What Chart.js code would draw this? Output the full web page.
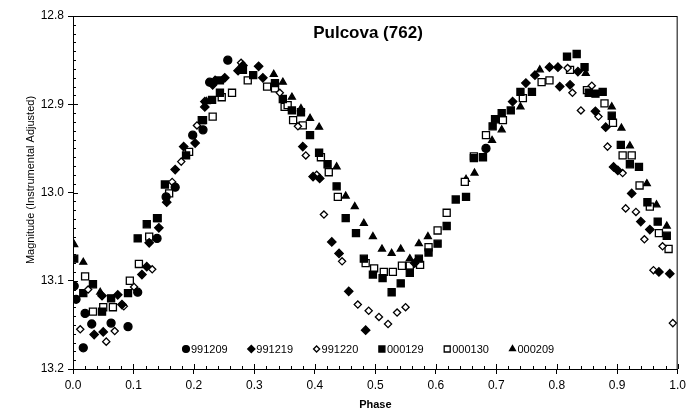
<!DOCTYPE html>
<html>
<head>
<meta charset="utf-8">
<script src="https://cdn.jsdelivr.net/npm/chart.js@4/dist/chart.umd.min.js"></script>
<style>
  html, body { margin: 0; padding: 0; background: #fff; }
  #wrap { width: 690px; height: 416px; position: relative; }
</style>
</head>
<body>
<div id="wrap"><canvas id="c" width="690" height="416"></canvas></div>
<script>
// series names (as in the legend)
const seriesNames = ['991209', '991219', '991220', '000129', '000130', '000209'];

// phase / magnitude for each night
const phase991209 = [0.002, 0.005, 0.020, 0.031, 0.017, 0.063, 0.091, 0.107, 0.139, 0.154, 0.169, 0.198, 0.215, 0.226, 0.256, 0.683];
const mag991209   = [13.106, 13.121, 13.137, 13.149, 13.176, 13.148, 13.152, 13.113, 13.052, 13.005, 12.994, 12.935, 12.929, 12.875, 12.850, 12.950];

const phase991219 = [0.035, 0.050, 0.048, 0.074, 0.081, 0.114, 0.122, 0.126, 0.142, 0.155, 0.169, 0.183, 0.202, 0.218, 0.231, 0.218, 0.235, 0.251, 0.273, 0.281, 0.307, 0.314, 0.380, 0.397, 0.408, 0.428, 0.440, 0.456, 0.484, 0.565, 0.727, 0.749, 0.764, 0.788, 0.802, 0.805, 0.822, 0.835, 0.864, 0.881, 0.894, 0.901, 0.924, 0.939, 0.954, 0.969, 0.987];
const mag991219   = [13.161, 13.158, 13.117, 13.116, 13.127, 13.093, 13.084, 13.057, 13.040, 13.011, 12.974, 12.948, 12.944, 12.903, 12.878, 12.897, 12.873, 12.870, 12.862, 12.856, 12.857, 12.870, 12.948, 12.982, 12.984, 13.056, 13.069, 13.112, 13.156, 13.080, 12.897, 12.876, 12.867, 12.858, 12.858, 12.880, 12.878, 12.863, 12.908, 12.926, 12.971, 12.975, 13.001, 13.033, 13.042, 13.090, 13.092];

const phase991220 = [0.012, 0.025, 0.055, 0.069, 0.084, 0.101, 0.131, 0.164, 0.179, 0.205, 0.278, 0.342, 0.372, 0.385, 0.403, 0.415, 0.445, 0.471, 0.489, 0.506, 0.521, 0.536, 0.550, 0.818, 0.826, 0.840, 0.858, 0.869, 0.884, 0.909, 0.914, 0.931, 0.945, 0.960, 0.975, 0.992];
const mag991220   = [13.155, 13.110, 13.169, 13.157, 13.129, 13.107, 13.087, 12.988, 12.965, 12.924, 12.853, 12.887, 12.925, 12.958, 12.980, 13.025, 13.078, 13.127, 13.134, 13.141, 13.149, 13.136, 13.130, 12.859, 12.887, 12.907, 12.879, 12.914, 12.948, 12.978, 13.018, 13.022, 13.053, 13.088, 13.061, 13.148];

const phase000129 = [0.002, 0.017, 0.033, 0.048, 0.063, 0.091, 0.107, 0.122, 0.139, 0.152, 0.187, 0.213, 0.230, 0.243, 0.243, 0.281, 0.298, 0.334, 0.347, 0.362, 0.377, 0.392, 0.407, 0.421, 0.436, 0.451, 0.468, 0.481, 0.496, 0.512, 0.527, 0.542, 0.557, 0.572, 0.588, 0.603, 0.618, 0.633, 0.650, 0.663, 0.678, 0.694, 0.698, 0.709, 0.724, 0.740, 0.759, 0.817, 0.833, 0.846, 0.853, 0.864, 0.876, 0.891, 0.906, 0.921, 0.936, 0.950, 0.967, 0.982];
const mag000129   = [13.075, 13.114, 13.104, 13.135, 13.120, 13.114, 13.052, 13.036, 13.029, 12.991, 12.958, 12.918, 12.895, 12.887, 12.873, 12.861, 12.867, 12.876, 12.894, 12.907, 12.909, 12.935, 12.955, 12.968, 12.993, 13.029, 13.046, 13.075, 13.093, 13.097, 13.113, 13.103, 13.091, 13.075, 13.068, 13.058, 13.038, 13.008, 13.005, 12.961, 12.960, 12.925, 12.917, 12.910, 12.907, 12.886, 12.886, 12.846, 12.843, 12.858, 12.887, 12.888, 12.886, 12.913, 12.946, 12.968, 12.971, 13.011, 13.033, 13.049];

const phase000130 = [0.020, 0.033, 0.050, 0.066, 0.094, 0.109, 0.126, 0.140, 0.159, 0.192, 0.215, 0.231, 0.246, 0.263, 0.289, 0.321, 0.334, 0.350, 0.355, 0.364, 0.380, 0.410, 0.423, 0.438, 0.484, 0.498, 0.514, 0.529, 0.544, 0.557, 0.574, 0.588, 0.603, 0.618, 0.648, 0.663, 0.683, 0.711, 0.744, 0.775, 0.788, 0.822, 0.850, 0.879, 0.893, 0.909, 0.924, 0.937, 0.954, 0.969, 0.985];
const mag000130   = [13.095, 13.135, 13.130, 13.130, 13.100, 13.081, 13.050, 13.029, 13.001, 12.954, 12.918, 12.914, 12.892, 12.887, 12.873, 12.880, 12.882, 12.903, 12.901, 12.918, 12.924, 12.960, 12.977, 13.005, 13.080, 13.086, 13.090, 13.090, 13.083, 13.083, 13.082, 13.062, 13.043, 13.023, 12.988, 12.959, 12.935, 12.918, 12.893, 12.875, 12.873, 12.861, 12.884, 12.899, 12.921, 12.958, 12.958, 12.992, 13.016, 13.046, 13.064];

const phase000209 = [0.002, 0.017, 0.045, 0.221, 0.332, 0.347, 0.362, 0.377, 0.392, 0.407, 0.436, 0.451, 0.466, 0.481, 0.496, 0.511, 0.527, 0.542, 0.557, 0.572, 0.587, 0.650, 0.664, 0.693, 0.709, 0.740, 0.772, 0.848, 0.891, 0.907, 0.921, 0.949, 0.965, 0.982];
const mag000209   = [13.059, 13.079, 13.113, 12.897, 12.866, 12.875, 12.892, 12.905, 12.916, 12.926, 12.971, 13.004, 13.016, 13.035, 13.050, 13.064, 13.069, 13.064, 13.075, 13.058, 13.050, 12.985, 12.978, 12.941, 12.929, 12.903, 12.861, 12.865, 12.903, 12.927, 12.947, 12.990, 13.014, 13.038];

// axis ticks
const xTicks = [0.0, 0.1, 0.2, 0.3, 0.4, 0.5, 0.6, 0.7, 0.8, 0.9, 1.0];
const yTicks = [12.8, 12.9, 13.0, 13.1, 13.2];

const FONT = '"Liberation Sans", Arial, sans-serif';

// marker look for each series
const styles = [
  { pointStyle: 'circle',   fill: '#000', radius: 4 },
  { pointStyle: 'rectRot',  fill: '#000', radius: 4.2 },
  { pointStyle: 'rectRot',  fill: '#fff', radius: 3.6 },
  { pointStyle: 'rect',     fill: '#000', radius: 5 },
  { pointStyle: 'rect',     fill: '#fff', radius: 5 },
  { pointStyle: 'triangle', fill: '#000', radius: 4 }
];

const pairs = [
  [phase991209, mag991209], [phase991219, mag991219], [phase991220, mag991220],
  [phase000129, mag000129], [phase000130, mag000130], [phase000209, mag000209]
];

const datasets = pairs.map(([xs, ys], i) => ({
  label: seriesNames[i],
  data: xs.map((x, k) => ({ x: x, y: ys[k] })),
  pointStyle: styles[i].pointStyle,
  pointRadius: styles[i].radius,
  backgroundColor: styles[i].fill,
  borderColor: '#000',
  borderWidth: 1.3,
  showLine: false
}));

// frame, inner ticks, titles and the in-plot legend
const decor = {
  id: 'decor',
  afterDraw(chart) {
    const { ctx, chartArea: a, scales: { x, y } } = chart;
    ctx.save();
    ctx.strokeStyle = '#000';
    ctx.lineWidth = 1;
    ctx.strokeRect(a.left + 0.5, a.top + 0.5, a.right - a.left - 1, a.bottom - a.top);

    // minor ticks, pointing inside
    ctx.beginPath();
    for (let i = 0; i <= 50; i++) {
      const px = Math.round(x.getPixelForValue(i * 0.02)) + 0.5;
      const len = i % 5 === 0 ? 5 : 3;
      ctx.moveTo(px, a.bottom); ctx.lineTo(px, a.bottom - len);
    }
    for (let i = 0; i <= 40; i++) {
      const py = Math.round(y.getPixelForValue(12.8 + i * 0.01)) + 0.5;
      const len = i % 10 === 0 ? 5 : 3;
      ctx.moveTo(a.left, py); ctx.lineTo(a.left + len, py);
    }
    ctx.stroke();

    // chart title
    ctx.fillStyle = '#000';
    ctx.font = 'bold 17px ' + FONT;
    ctx.textAlign = 'center';
    ctx.textBaseline = 'middle';
    ctx.fillText('Pulcova (762)', 368, 33);

    // y axis title
    ctx.save();
    ctx.translate(31, 180);
    ctx.rotate(-Math.PI / 2);
    ctx.font = '11px ' + FONT;
    ctx.fillText('Magnitude (Instrumental Adjusted)', 0, 0);
    ctx.restore();

    // legend row inside the plot
    ctx.font = '11px ' + FONT;
    ctx.textAlign = 'left';
    const ly = a.bottom - 20;
    chart.data.datasets.forEach((ds, i) => {
      const mx = 186 + i * 65.3;
      ctx.fillStyle = ds.backgroundColor;
      ctx.strokeStyle = '#000';
      ctx.lineWidth = 1.3;
      Chart.helpers.drawPoint(ctx, { pointStyle: ds.pointStyle, radius: ds.pointRadius * 0.85, borderWidth: 1.3 }, mx, ly);
      ctx.fillStyle = '#000';
      ctx.fillText(ds.label, mx + 5, ly + 1);
    });
    ctx.restore();
  }
};

new Chart(document.getElementById('c'), {
  type: 'scatter',
  data: { datasets },
  plugins: [decor],
  options: {
    responsive: false,
    animation: false,
    layout: { padding: { top: 16, right: 10, left: 0, bottom: 0 } },
    plugins: { legend: { display: false }, tooltip: { enabled: false } },
    scales: {
      x: {
        type: 'linear', min: 0, max: 1,
        afterBuildTicks: s => { s.ticks = xTicks.map(v => ({ value: v })); },
        afterFit: s => { s.height = 47; },
        ticks: { callback: v => v.toFixed(1), color: '#000', font: { family: FONT, size: 12 }, maxRotation: 0, padding: 4 },
        grid: { drawOnChartArea: false, tickLength: 5, color: '#000' },
        border: { color: '#000' },
        title: { display: true, text: 'Phase', color: '#000', font: { family: FONT, size: 11, weight: 'bold' }, padding: { top: 2 } }
      },
      y: {
        type: 'linear', min: 12.8, max: 13.2, reverse: true,
        afterBuildTicks: s => { s.ticks = yTicks.map(v => ({ value: v })); },
        afterFit: s => { s.width = 73; },
        ticks: { callback: v => v.toFixed(1), color: '#000', font: { family: FONT, size: 12 }, padding: 4 },
        grid: { drawOnChartArea: false, tickLength: 5, color: '#000' },
        border: { color: '#000' },
        title: { display: false }
      }
    }
  }
});
</script>
</body>
</html>
